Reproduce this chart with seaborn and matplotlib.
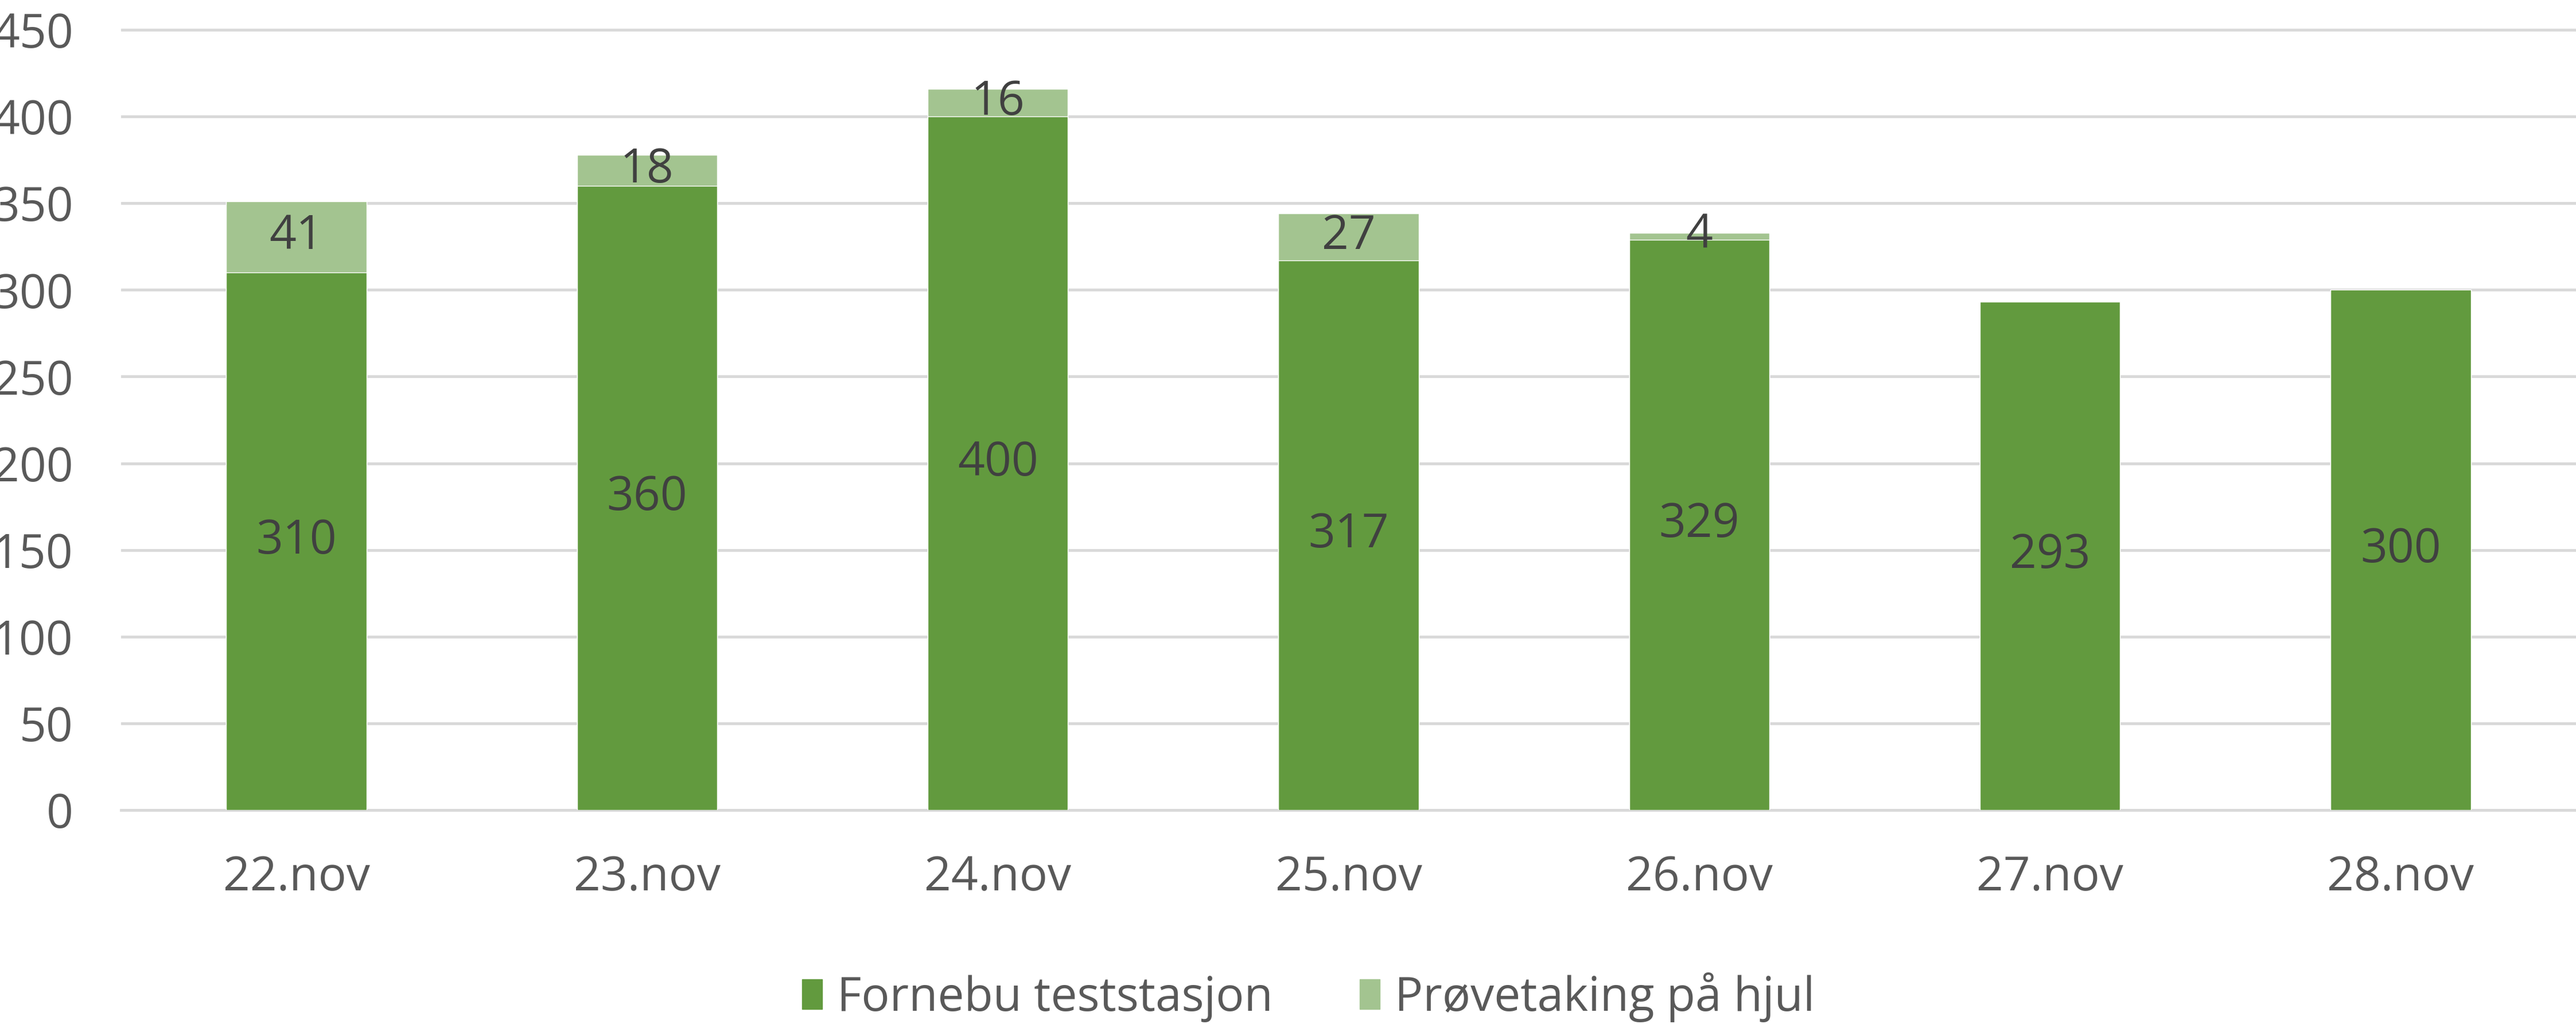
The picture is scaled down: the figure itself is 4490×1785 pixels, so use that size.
import numpy as np
import pandas as pd
import matplotlib
matplotlib.use("Agg")
import matplotlib.pyplot as plt
from matplotlib.patches import Patch
from matplotlib.ticker import FixedLocator
import seaborn as sns

# Data
dates = ["22.nov", "23.nov", "24.nov", "25.nov", "26.nov", "27.nov", "28.nov"]
fornebu = [310, 360, 400, 317, 329, 293, 300]
hjul = [41, 18, 16, 27, 4, 0, 0]

dark_green = "#629A3E"
light_green = "#A3C490"
grid_gray = "#D9D9D9"
text_gray = "#595959"
label_gray = "#404040"

sns.set_style("white")
plt.rcParams['font.family'] = ['Open Sans', 'DejaVu Sans']

df = pd.DataFrame({"date": dates, "fornebu": fornebu, "hjul": hjul})
df["total"] = df["fornebu"] + df["hjul"]

W, H, DPI = 4490, 1785, 100
fig = plt.figure(figsize=(W / DPI, H / DPI), dpi=DPI)

# axes placement in pixels: y=0 at 1412, 450 at 52
y0_px, px_per_unit = 1412, (1412 - 52) / 450
ymax = 455
left_px = 211
ax = fig.add_axes([left_px / W, (H - y0_px) / H, (W - left_px) / W, ymax * px_per_unit / H])

# stacked bars: totals in light green, Fornebu on top in dark green
sns.barplot(data=df, x="date", y="total", color=light_green, width=0.4,
            saturation=1, ax=ax, zorder=2)
sns.barplot(data=df, x="date", y="fornebu", color=dark_green, width=0.4,
            saturation=1, ax=ax, zorder=3)

# data labels
fs = 59
for i, row in df.iterrows():
    ax.text(i, row["fornebu"] / 2, f"{row['fornebu']}", ha="center", va="center",
            fontsize=fs, color=label_gray, zorder=5)
    if row["hjul"] > 0:
        ax.text(i, row["fornebu"] + row["hjul"] / 2, f"{row['hjul']}", ha="center",
                va="center", fontsize=fs, color=label_gray, zorder=5)

ax.set_ylim(0, ymax)
ax.set_xlim(-0.5, len(dates) - 0.5)
ax.set_yticks(np.arange(0, 451, 50))
ax.grid(axis="y", color=grid_gray, linewidth=3.5, zorder=0)
ax.set_axisbelow(True)

for side in ["top", "right", "left"]:
    ax.spines[side].set_visible(False)
ax.spines["bottom"].set_color(grid_gray)
ax.spines["bottom"].set_linewidth(3.5)

ax.xaxis.set_minor_locator(FixedLocator(np.arange(-0.5, len(dates), 1.0)))
ax.tick_params(axis="x", which="minor", length=22, width=2.5, color=grid_gray)
ax.tick_params(axis="x", which="major", length=0, pad=56, labelsize=fs, labelcolor=text_gray)
ax.tick_params(axis="y", length=0, pad=60, labelsize=fs, labelcolor=text_gray)
ax.set_xlabel("")
ax.set_ylabel("")

handles = [Patch(color=dark_green, label="Fornebu teststasjon"),
           Patch(color=light_green, label="Prøvetaking på hjul")]
leg = fig.legend(handles=handles, loc="center", bbox_to_anchor=(0.508, 1 - 1738 / H),
                 ncol=2, frameon=False, fontsize=fs, handlelength=0.42, handleheight=0.6,
                 handletextpad=0.32, columnspacing=1.85)
for t in leg.get_texts():
    t.set_color(text_gray)

fig.savefig("out.png", dpi=DPI)
